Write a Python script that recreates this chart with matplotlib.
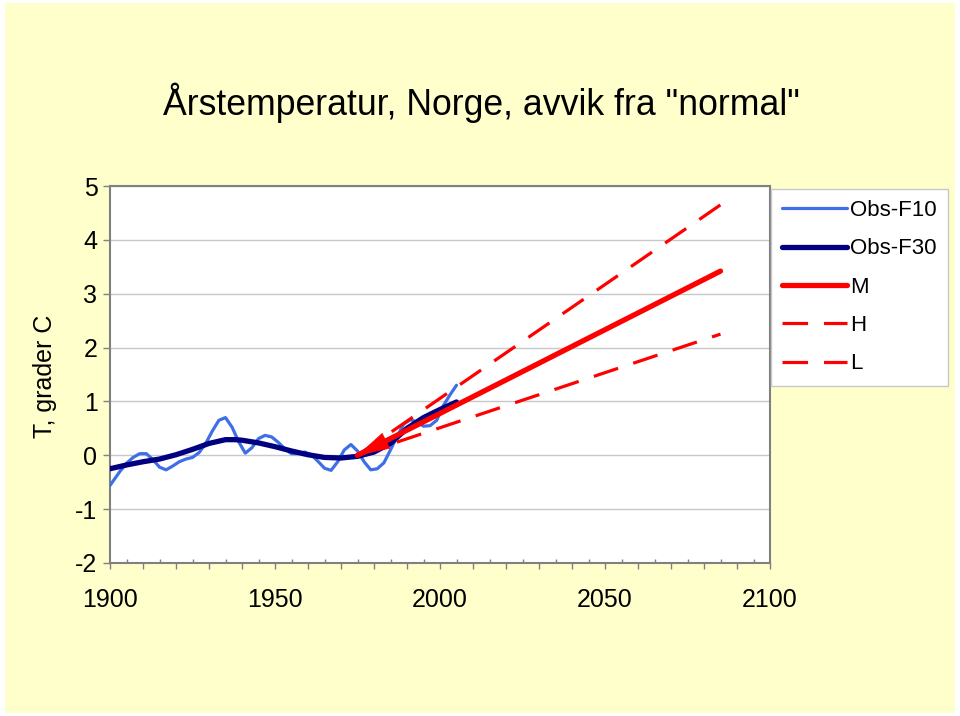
"""Årstemperatur, Norge: avvik fra normal, observert og scenarier."""
import numpy as np
import matplotlib
matplotlib.use("Agg")
import matplotlib.pyplot as plt
from matplotlib.patches import Rectangle

plt.rcParams["font.family"] = ["Liberation Sans", "DejaVu Sans"]
plt.rcParams["axes.unicode_minus"] = False

# Obs-F10 (10-års filter)
f10_years = [1900, 1903, 1905, 1907, 1909, 1911, 1913, 1915, 1917, 1919, 1921, 1923,
             1925, 1927, 1929, 1931, 1933, 1935, 1937, 1939, 1941, 1943, 1945, 1947,
             1949, 1951, 1953, 1955, 1957, 1959, 1961, 1963, 1965, 1967, 1969, 1971,
             1973, 1975, 1977, 1979, 1981, 1983, 1985, 1987, 1989, 1991, 1993, 1995,
             1997, 1999, 2001, 2003, 2005]
f10_vals = [-0.56, -0.30, -0.15, -0.04, 0.03, 0.03, -0.08, -0.22, -0.27, -0.20, -0.12, -0.07,
            -0.04, 0.05, 0.22, 0.45, 0.65, 0.70, 0.52, 0.25, 0.04, 0.14, 0.31, 0.37,
            0.34, 0.24, 0.12, 0.03, 0.03, 0.06, 0.01, -0.11, -0.24, -0.28, -0.12, 0.10,
            0.20, 0.08, -0.12, -0.27, -0.25, -0.14, 0.10, 0.35, 0.58, 0.66, 0.62, 0.54,
            0.55, 0.65, 0.92, 1.12, 1.30]

# Obs-F30 (30-års filter)
f30_years = [1900, 1905, 1910, 1915, 1920, 1925, 1930, 1935, 1938, 1940, 1945, 1950,
             1955, 1960, 1965, 1970, 1975, 1980, 1985, 1990, 1995, 2000, 2005]
f30_vals = [-0.25, -0.18, -0.12, -0.07, 0.01, 0.11, 0.22, 0.29, 0.29, 0.28, 0.23, 0.16,
            0.08, 0.01, -0.04, -0.05, -0.02, 0.06, 0.22, 0.50, 0.70, 0.85, 0.99]

# scenarier
scen_years = [1975, 2085]
m_vals = [0.0, 3.42]
h_vals = [0.0, 4.65]
l_vals = [0.0, 2.25]

RED = "#ff0000"
fig = plt.figure(figsize=(9.6, 7.16), dpi=100, facecolor="white")
fig.patches.append(Rectangle((5 / 960, 3 / 716), 950 / 960, 710 / 716,
                             transform=fig.transFigure, facecolor="#ffffcc",
                             edgecolor="none", zorder=-10))
ax = fig.add_axes([110 / 960, 1 - 563 / 716, 660 / 960, 377 / 716])
ax.set_facecolor("white")

ax.plot(f10_years, f10_vals, color="#3e6fe6", lw=2.3, label="Obs-F10",
        solid_capstyle="round", solid_joinstyle="round", zorder=3)
ax.plot(f30_years, f30_vals, color="#000080", lw=3.8, label="Obs-F30",
        solid_capstyle="round", solid_joinstyle="round", zorder=4)
ax.plot(scen_years, m_vals, color=RED, lw=3.8, label="M", solid_capstyle="round", zorder=5)
ax.plot(scen_years, h_vals, color=RED, lw=2.3, ls=(0, (8, 5)), label="H", zorder=5)
ax.plot(scen_years, l_vals, color=RED, lw=2.3, ls=(0, (8, 5)), label="L", zorder=5)

# pilspiss i starten av M
slope = (m_vals[1] - m_vals[0]) / (scen_years[1] - scen_years[0])
ax.annotate("", xy=(scen_years[0], m_vals[0]),
            xytext=(scen_years[0] + 8, m_vals[0] + 8 * slope),
            arrowprops=dict(arrowstyle="-|>,head_length=1.1,head_width=0.3",
                            mutation_scale=20, color=RED, lw=0.5,
                            shrinkA=0, shrinkB=0), zorder=6)

ax.set_xlim(1900, 2100)
ax.set_ylim(-2, 5)
ax.set_xticks(np.arange(1900, 2101, 10))
ax.set_xticklabels([str(y) if y % 50 == 0 else "" for y in range(1900, 2101, 10)])
ax.set_xticks(np.arange(1905, 2100, 10), minor=True)
ax.set_yticks(np.arange(-2, 6, 1))
ax.yaxis.grid(True, color="#c8c8c8", lw=1)
ax.set_axisbelow(True)
for sp in ax.spines.values():
    sp.set_color("#808080")
    sp.set_linewidth(1.5)
ax.tick_params(axis="y", length=5, width=1, color="#808080", pad=4, labelsize=18)
ax.tick_params(axis="x", which="major", length=4, width=1, color="#808080",
               direction="out", pad=14, labelsize=18)
ax.tick_params(axis="x", which="minor", length=3, width=1, color="#808080", direction="in")

fig.text(163 / 960, 1 - 103 / 716, 'Årstemperatur, Norge, avvik fra "normal"',
         fontsize=25.7, ha="left", va="center")
fig.text(45 / 960, 1 - 376 / 716, "T, grader C", fontsize=18, rotation=90,
         ha="center", va="center")

leg = ax.legend(loc="upper left", bbox_to_anchor=(771 / 960, 1 - 189 / 716),
                bbox_transform=fig.transFigure, fontsize=16, frameon=True,
                fancybox=False, edgecolor="#c8c8c8", facecolor="white", framealpha=1,
                handlelength=2.9, handletextpad=0.15, labelspacing=0.78,
                borderpad=0.5, borderaxespad=0)
leg.get_frame().set_linewidth(1)

fig.savefig("out.png", dpi=100, facecolor=fig.get_facecolor())
print("saved out.png")
